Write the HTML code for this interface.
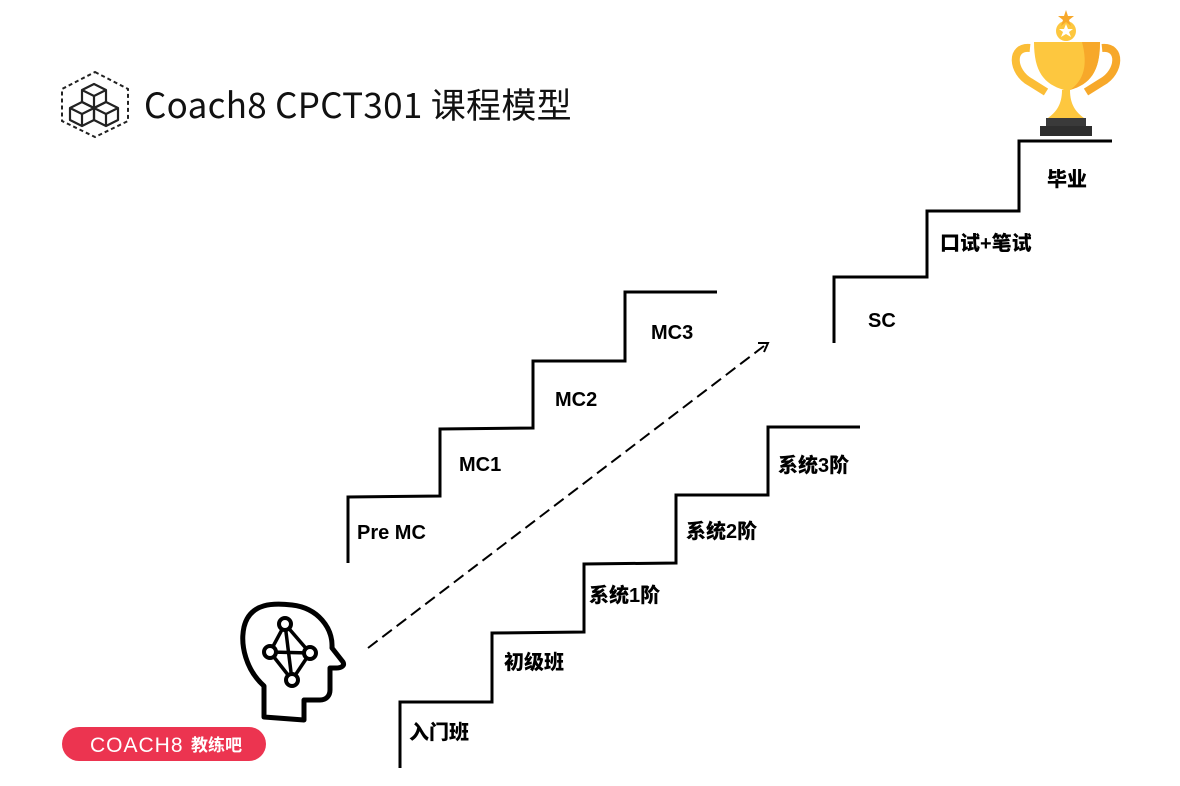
<!DOCTYPE html>
<html><head><meta charset="utf-8"><style>
html,body{margin:0;padding:0;background:#fff;}
body{width:1180px;height:786px;position:relative;overflow:hidden;}
svg{position:absolute;left:0;top:0;}
.l{font-family:"Liberation Sans","Noto Sans CJK SC",sans-serif;font-weight:900;font-size:20px;fill:#000;}
.t{font-family:"Noto Sans CJK SC",sans-serif;font-size:35px;fill:#111;letter-spacing:0.3px;}
</style></head><body>
<svg width="1180" height="786" viewBox="0 0 1180 786">
<polygon points="95,72 128,89 128,121 95,137 62,121 62,89" fill="none" stroke="#222" stroke-width="2" stroke-dasharray="4,3"/>
<g fill="none" stroke="#222" stroke-width="2.2" stroke-linejoin="round">
<path d="M82,90 L94,84 L106,90 L106,102 L94,108 L82,102 Z M82,90 L94,96 L106,90 M94,96 V108"/>
<path d="M70,108 L82,102 L94,108 L94,120 L82,126 L70,120 Z M70,108 L82,114 L94,108 M82,114 V126"/>
<path d="M94,108 L106,102 L118,108 L118,120 L106,126 L94,120 Z M94,108 L106,114 L118,108 M106,114 V126"/>
</g>
<text x="144" y="118" class="t">Coach8 CPCT301 课程模型</text>

<g fill="none" stroke="#000" stroke-width="3">
<polyline points="348,563 348,497 440,496 440,429 533,428 533,361 625,361 625,292 717,292"/>
<polyline points="400,768 400,702 492,702 492,633 584,632 584,564 676,563 676,495 768,495 768,427 860,427"/>
<polyline points="834,343 834,277 927,277 927,211 1019,211 1019,141 1112,141"/>
</g>
<line x1="368" y1="648" x2="764" y2="346" stroke="#000" stroke-width="2" stroke-dasharray="12,6"/>
<polyline points="758,343 768,343 764,352" fill="none" stroke="#000" stroke-width="2"/>

<text class="l" x="357" y="539">Pre MC</text>
<text class="l" x="459" y="471">MC1</text>
<text class="l" x="555" y="406">MC2</text>
<text class="l" x="651" y="339">MC3</text>
<text class="l" x="409" y="739">入门班</text>
<text class="l" x="504" y="669">初级班</text>
<text class="l" x="589" y="602">系统1阶</text>
<text class="l" x="686" y="538">系统2阶</text>
<text class="l" x="778" y="472">系统3阶</text>
<text class="l" x="868" y="327">SC</text>
<text class="l" x="940" y="250">口试+笔试</text>
<text class="l" x="1047" y="186">毕业</text>

<g fill="none" stroke="#000" stroke-width="5" stroke-linejoin="round" stroke-linecap="round">
<path d="M264,717 L264,686 C246,670 240,645 244,627 C250,602 275,603 292,605 C318,608 333,628 332,648 L343,662 C345,666 341,668 336,668 L330,668 L330,690 C330,696 326,700 320,700 L304,700 L304,720 Z"/>
</g>
<g fill="none" stroke="#000" stroke-width="3.5">
<line x1="285" y1="624" x2="270" y2="652"/><line x1="285" y1="624" x2="310" y2="653"/>
<line x1="270" y1="652" x2="292" y2="680"/><line x1="310" y1="653" x2="292" y2="680"/>
<line x1="285" y1="624" x2="292" y2="680"/><line x1="270" y1="652" x2="310" y2="653"/>
</g>
<g fill="#fff" stroke="#000" stroke-width="4">
<circle cx="285" cy="624" r="6"/><circle cx="270" cy="652" r="6"/><circle cx="310" cy="653" r="6"/><circle cx="292" cy="680" r="6"/>
</g>

<rect x="62" y="727" width="204" height="34" rx="17" fill="#ec3450"/>
<text x="90" y="752" font-family="Liberation Sans,sans-serif" font-size="21" fill="#fff" letter-spacing="1">COACH8</text>
<text x="191" y="751" font-family="Liberation Sans,Noto Sans CJK SC,sans-serif" font-size="17" font-weight="bold" fill="#fff">教练吧</text>

<path d="M1030,48 C1010,46 1012,72 1030,82 L1046,92" fill="none" stroke="#fbbd36" stroke-width="8"/>
<path d="M1102,48 C1122,46 1120,72 1102,82 L1086,92" fill="none" stroke="#f7a82a" stroke-width="8"/>
<path d="M1034,42 L1100,42 C1100,72 1090,84 1070,90 L1064,90 C1044,84 1034,72 1034,42 Z" fill="#fdc73f"/>
<path d="M1082,42 L1100,42 C1100,72 1090,84 1070,90 C1084,80 1088,65 1082,42 Z" fill="#f7a82a"/>
<circle cx="1066" cy="31" r="10" fill="#fdc73f"/>
<polygon points="1066,4 1068,10 1074,10 1069,14 1071,20 1066,16 1061,20 1063,14 1058,10 1064,10" fill="#f7a82a" transform="translate(0,6)"/>
<polygon points="1066,24 1068,29 1073,29 1069,32 1071,37 1066,34 1061,37 1063,32 1059,29 1064,29" fill="#fff"/>
<path d="M1062,90 L1070,90 C1070,105 1076,112 1084,118 L1048,118 C1056,112 1062,105 1062,90 Z" fill="#fdc73f"/>
<rect x="1046" y="118" width="40" height="8" fill="#3a3a3a"/>
<rect x="1040" y="126" width="52" height="10" fill="#2e2e2e"/>
</svg>
</body></html>
